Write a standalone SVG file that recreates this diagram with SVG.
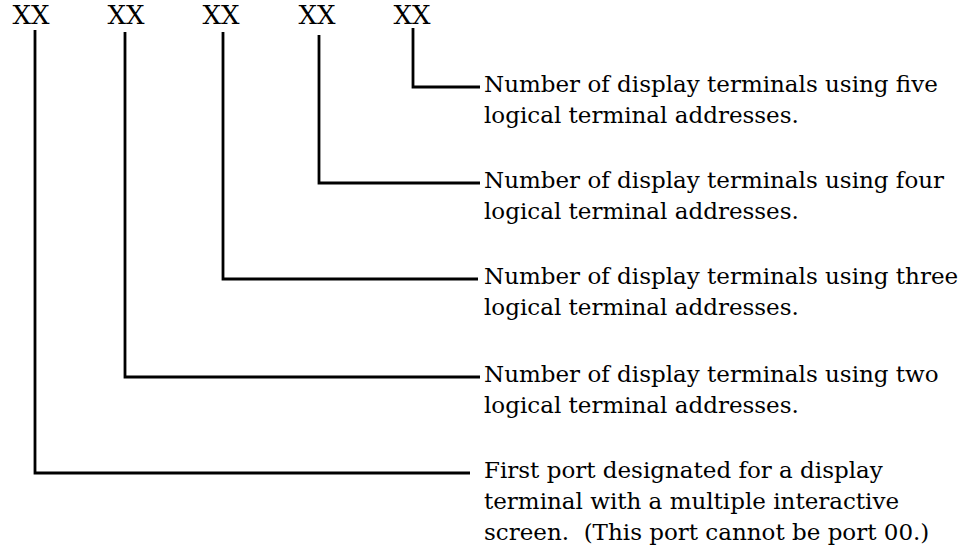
<svg xmlns="http://www.w3.org/2000/svg" width="962" height="546" viewBox="0 0 962 546">
<style>
  .xx { font-family: "DejaVu Serif", "Liberation Serif", serif; font-size: 26px; fill: #000; text-anchor: middle; }
  .lbl { font-family: "DejaVu Serif", "Liberation Serif", serif; font-size: 23px; fill: #000; }
  .conn { fill: none; stroke: #000; stroke-width: 2.8; stroke-linejoin: miter; }
</style>
<rect width="962" height="546" fill="#ffffff"/>
<g id="fields">
  <text class="xx" x="31" y="24">XX</text>
  <text class="xx" x="126" y="24">XX</text>
  <text class="xx" x="221" y="24">XX</text>
  <text class="xx" x="317" y="24">XX</text>
  <text class="xx" x="412" y="24">XX</text>
</g>
<g id="connectors">
  <path class="conn" d="M413 28 V87 H480"/>
  <path class="conn" d="M319 35 V183 H480"/>
  <path class="conn" d="M223 32 V279 H478"/>
  <path class="conn" d="M125 32 V377 H480"/>
  <path class="conn" d="M35 30 V473 H470"/>
</g>
<g id="label-five">
  <text class="lbl" x="484" y="92">Number of display terminals using five</text>
  <text class="lbl" x="484" y="123">logical terminal addresses.</text>
</g>
<g id="label-four">
  <text class="lbl" x="484" y="188">Number of display terminals using four</text>
  <text class="lbl" x="484" y="219">logical terminal addresses.</text>
</g>
<g id="label-three">
  <text class="lbl" x="484" y="284">Number of display terminals using three</text>
  <text class="lbl" x="484" y="315">logical terminal addresses.</text>
</g>
<g id="label-two">
  <text class="lbl" x="484" y="382">Number of display terminals using two</text>
  <text class="lbl" x="484" y="413">logical terminal addresses.</text>
</g>
<g id="label-first">
  <text class="lbl" x="484" y="478">First port designated for a display</text>
  <text class="lbl" x="484" y="509">terminal with a multiple interactive</text>
  <text class="lbl" x="484" y="540" xml:space="preserve">screen.  (This port cannot be port 00.)</text>
</g>
</svg>
